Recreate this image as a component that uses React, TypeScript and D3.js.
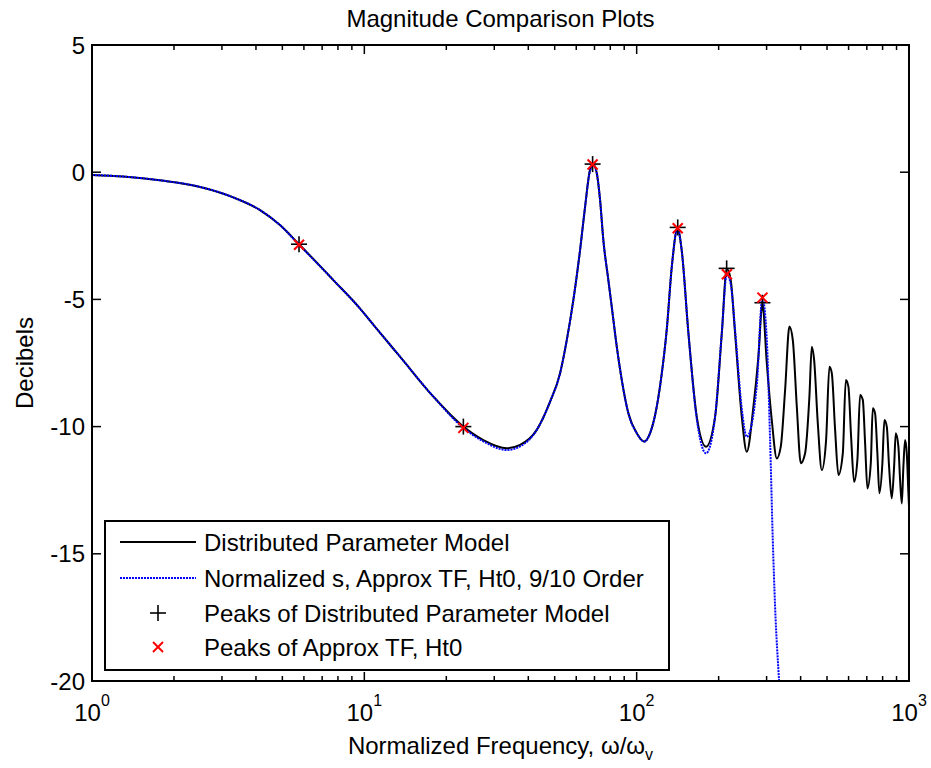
import React from "react";
import * as d3 from "d3";

// Distributed Parameter Model (black solid)
const dpmFreq = [1.0, 1.3, 1.807, 2.451, 3.267, 4.14, 4.901, 5.757, 7.694, 9.643, 11.11, 13.52, 17.92, 23.1, 27.35, 33.34, 37.32, 42.97, 48.09, 52.33, 55.38, 58.56, 61.97, 64.65, 67.44, 69.34, 71.38, 73.38, 75.45, 78.71, 81.01, 84.52, 88.18, 93.23, 100.1, 106.7, 112.0, 118.5, 123.7, 129.0, 134.6, 141.3, 146.3, 154.9, 166.2, 179.8, 194.1, 205.4, 214.2, 221.5, 229.8, 243.2, 253.7, 268.3, 279.9, 289.5, 300.5, 313.4, 327.0, 338.2, 350.8, 363.8, 374.4, 387.3, 400.6, 415.4, 430.8, 439.6, 448.3, 462.5, 478.4, 496.1, 510.2, 520.6, 535.4, 550.6, 571.4, 586.1, 599.1, 612.9, 628.6, 646.4, 661.3, 676.6, 690.0, 703.5, 723.9, 736.2, 750.7, 765.4, 778.5, 798.5, 812.1, 828.8, 845.0, 864.5, 881.6, 894.3, 914.3, 927.4, 940.9, 953.6, 967.6, 981.5, 995.0, 1000];
const dpmDb = [-0.11, -0.17, -0.33, -0.56, -0.97, -1.49, -2.08, -2.83, -4.24, -5.36, -6.16, -7.25, -8.82, -10.0, -10.53, -10.85, -10.72, -10.13, -9.02, -7.9, -6.6, -5.02, -3.06, -1.36, 0.09, 0.3, -0.04, -1.09, -2.67, -4.24, -5.29, -6.86, -8.17, -9.48, -10.26, -10.59, -10.26, -9.22, -7.9, -6.17, -3.71, -2.2, -3.06, -6.33, -9.61, -10.79, -9.61, -6.33, -3.8, -4.24, -6.33, -9.61, -10.99, -9.22, -7.25, -5.15, -7.51, -9.74, -11.25, -10.79, -8.56, -6.07, -6.6, -9.22, -11.44, -11.05, -8.82, -6.86, -7.38, -9.87, -11.71, -10.53, -7.65, -7.9, -10.13, -11.9, -11.05, -8.17, -8.43, -10.4, -12.17, -11.31, -8.76, -8.95, -10.66, -12.43, -11.44, -9.28, -9.48, -11.05, -12.62, -11.44, -9.74, -10.0, -11.58, -12.82, -11.58, -10.26, -10.79, -12.1, -13.02, -11.58, -10.53, -11.05, -12.62, -13.15];

// Normalized s, Approx TF, Ht0, 9/10 Order (blue dotted)
const tfFreq = [1.0, 1.3, 1.807, 2.451, 3.267, 4.14, 4.901, 5.757, 7.694, 9.643, 11.11, 13.52, 17.92, 23.1, 27.35, 33.34, 37.32, 42.97, 48.09, 52.33, 55.38, 58.56, 61.97, 64.65, 67.44, 69.34, 71.38, 73.38, 75.45, 78.71, 81.01, 84.52, 88.18, 93.23, 100.1, 106.7, 112.0, 118.5, 123.7, 129.0, 134.6, 141.3, 146.3, 154.9, 166.2, 179.8, 194.1, 205.4, 214.2, 221.5, 229.8, 243.2, 253.7, 275.9, 289.5, 300.5, 309.0, 316.1, 322.3, 333.4, 340.0];
const tfDb = [-0.11, -0.17, -0.33, -0.56, -0.97, -1.49, -2.08, -2.85, -4.24, -5.36, -6.16, -7.25, -8.82, -10.05, -10.58, -10.92, -10.78, -10.13, -9.02, -7.9, -6.6, -5.02, -3.06, -1.36, 0.07, 0.28, -0.04, -1.09, -2.67, -4.24, -5.29, -6.86, -8.17, -9.48, -10.26, -10.59, -10.26, -9.22, -7.9, -6.17, -3.71, -2.22, -3.06, -6.33, -9.7, -11.05, -9.61, -6.33, -4.02, -4.4, -6.2, -9.3, -10.4, -8.43, -4.95, -6.6, -10.53, -14.46, -17.08, -20.0, -21.5];

// Peaks
const dpmPeakFreq = [5.757, 23.1, 68.9, 141.5, 214.0, 289.6];
const dpmPeakDb = [-2.83, -10.0, 0.32, -2.17, -3.78, -5.13];
const tfPeakFreq = [5.757, 23.1, 68.9, 141.5, 214.5, 289.6];
const tfPeakDb = [-2.85, -10.05, 0.3, -2.2, -4.01, -4.93];

const yTicks = [5, 0, -5, -10, -15, -20];
const xDecades = [0, 1, 2, 3];
const legendLabels = [
  "Distributed Parameter Model",
  "Normalized s, Approx TF, Ht0, 9/10 Order",
  "Peaks of Distributed Parameter Model",
  "Peaks of Approx TF, Ht0",
];
const titleText = "Magnitude Comparison Plots";
const yLabelText = "Decibels";

const W = 931;
const H = 768;
const M = { left: 92, right: 909, top: 45, bottom: 681 };
const FONT = "'Liberation Sans', Arial, Helvetica, sans-serif";

export default function App() {
  const x = d3.scaleLog().domain([1, 1000]).range([M.left, M.right]);
  const y = d3.scaleLinear().domain([-20, 5]).range([M.bottom, M.top]);

  const line = d3
    .line<[number, number]>()
    .x((d) => x(d[0]))
    .y((d) => y(d[1]))
    .curve(d3.curveMonotoneX);

  const dpmPts = dpmFreq.map((f, i) => [f, dpmDb[i]] as [number, number]);
  const tfPts = tfFreq.map((f, i) => [f, tfDb[i]] as [number, number]);

  const minorTicks: number[] = [];
  for (const dcd of [0, 1, 2]) {
    for (let k = 2; k <= 9; k++) minorTicks.push(k * Math.pow(10, dcd));
  }

  const plus = (cx: number, cy: number, s: number, key: string) => (
    <g key={key} stroke="#000" strokeWidth={1.6}>
      <line x1={cx - s} x2={cx + s} y1={cy} y2={cy} />
      <line x1={cx} x2={cx} y1={cy - s} y2={cy + s} />
    </g>
  );
  const cross = (cx: number, cy: number, s: number, key: string) => (
    <g key={key} stroke="#ff0000" strokeWidth={2}>
      <line x1={cx - s} x2={cx + s} y1={cy - s} y2={cy + s} />
      <line x1={cx - s} x2={cx + s} y1={cy + s} y2={cy - s} />
    </g>
  );

  const leg = { x0: 105, y0: 521, x1: 669, y1: 670 };
  const legRows = [542, 578, 613, 647];

  return (
    <svg
      width={W}
      height={H}
      style={{ position: "absolute", left: 0, top: 0, background: "#fff" }}
      fontFamily={FONT}
    >
      <rect x={0} y={0} width={W} height={H} fill="#fff" />
      <defs>
        <clipPath id="plotclip">
          <rect x={M.left} y={M.top} width={M.right - M.left} height={M.bottom - M.top} />
        </clipPath>
      </defs>

      {/* ticks */}
      <g stroke="#000" strokeWidth={1.5}>
        {yTicks.map((t) => (
          <g key={"yt" + t}>
            <line x1={M.left} x2={M.left + 9} y1={y(t)} y2={y(t)} />
            <line x1={M.right} x2={M.right - 9} y1={y(t)} y2={y(t)} />
          </g>
        ))}
        {xDecades.map((d) => (
          <g key={"xt" + d}>
            <line x1={x(Math.pow(10, d))} x2={x(Math.pow(10, d))} y1={M.bottom} y2={M.bottom - 9} />
            <line x1={x(Math.pow(10, d))} x2={x(Math.pow(10, d))} y1={M.top} y2={M.top + 9} />
          </g>
        ))}
        {minorTicks.map((t) => (
          <g key={"mt" + t}>
            <line x1={x(t)} x2={x(t)} y1={M.bottom} y2={M.bottom - 5} />
            <line x1={x(t)} x2={x(t)} y1={M.top} y2={M.top + 5} />
          </g>
        ))}
      </g>

      {/* curves */}
      <g clipPath="url(#plotclip)">
        <path d={line(dpmPts) || ""} fill="none" stroke="#000" strokeWidth={2} strokeLinejoin="round" />
        <path
          d={line(tfPts) || ""}
          fill="none"
          stroke="#0000ff"
          strokeWidth={2}
          strokeDasharray="2,1"
        />
        {dpmPeakFreq.map((f, i) => plus(x(f), y(dpmPeakDb[i]), 8, "p" + i))}
        {tfPeakFreq.map((f, i) => cross(x(f), y(tfPeakDb[i]), 5, "c" + i))}
      </g>

      {/* legend */}
      <rect
        x={leg.x0}
        y={leg.y0}
        width={leg.x1 - leg.x0}
        height={leg.y1 - leg.y0}
        fill="#fff"
        stroke="#000"
        strokeWidth={2}
      />
      <line x1={120} x2={196} y1={legRows[0]} y2={legRows[0]} stroke="#000" strokeWidth={2} />
      <line
        x1={120}
        x2={196}
        y1={legRows[1]}
        y2={legRows[1]}
        stroke="#0000ff"
        strokeWidth={2}
        strokeDasharray="2,1"
      />
      {plus(158, legRows[2], 8, "lp")}
      {cross(158, legRows[3], 5, "lc")}
      {legendLabels.map((t, i) => (
        <text key={"lg" + i} x={204} y={legRows[i]} dy="0.36em" fontSize={24} fill="#000">
          {t}
        </text>
      ))}

      {/* axes box */}
      <rect
        x={M.left}
        y={M.top}
        width={M.right - M.left}
        height={M.bottom - M.top}
        fill="none"
        stroke="#000"
        strokeWidth={2}
      />

      {/* y tick labels */}
      {yTicks.map((t) => (
        <text key={"yl" + t} x={85} y={y(t)} dy="0.36em" textAnchor="end" fontSize={24} fill="#000">
          {t}
        </text>
      ))}

      {/* x tick labels */}
      {xDecades.map((d) => (
        <text key={"xl" + d} x={x(Math.pow(10, d))} y={721} textAnchor="middle" fontSize={24} fill="#000">
          10
          <tspan dy={-15} fontSize={16}>
            {d}
          </tspan>
        </text>
      ))}

      {/* title */}
      <text x={(M.left + M.right) / 2} y={27} textAnchor="middle" fontSize={24} fill="#000">
        {titleText}
      </text>

      {/* x label */}
      <text x={(M.left + M.right) / 2} y={754} textAnchor="middle" fontSize={24} fill="#000">
        Normalized Frequency, ω/ω
        <tspan dy={6} fontSize={16}>
          v
        </tspan>
      </text>

      {/* y label */}
      <text
        transform={`translate(33, ${(M.top + M.bottom) / 2}) rotate(-90)`}
        textAnchor="middle"
        fontSize={24}
        fill="#000"
      >
        {yLabelText}
      </text>
    </svg>
  );
}
